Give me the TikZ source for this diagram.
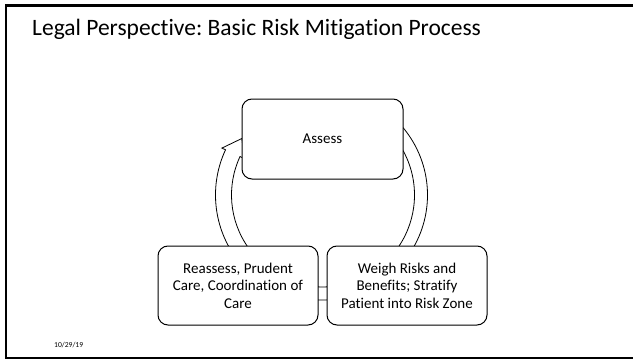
\documentclass[tikz,border=0pt]{standalone}
\usepackage{fontspec}
\setmainfont{Carlito}[Ligatures=NoCommon]
\frenchspacing
\usetikzlibrary{calc}
\begin{document}
\begin{tikzpicture}[x=1pt,y=1pt,
  stage/.style={draw=black, line width=1pt, fill=white, rounded corners=10pt,
    minimum width=160pt, minimum height=79pt, align=center, inner sep=2pt,
    font=\fontsize{15}{17.5}\selectfont},
  band/.style={draw=black, line width=0.8pt, fill=white, line join=miter}]
\useasboundingbox (0,0) rectangle (633,360);
% slide frame (right edge outside the picture)
\draw[line width=2.5pt] (640,354.5) -- (6,354.5) -- (6,2) -- (640,2);
% title and date
\node[anchor=base west, inner sep=0, font=\fontsize{23.5}{28}\selectfont] (title) at (32,325)
  {Legal Perspective: Basic Risk Mitigation Process};
\node[anchor=base west, inner sep=0, font=\fontsize{7.6}{9}\selectfont] (date) at (54,13) {10/29/19};
% cycle centre
\coordinate (C) at (322.5,165);
% right band (Assess -> Weigh)
\draw[band] ($(C)+(50:105)$) arc[start angle=50, end angle=-45, radius=105]
  -- ($(C)+(-45:92)$) arc[start angle=-45, end angle=50, radius=92] -- cycle;
% bottom band (Weigh -> Reassess)
\draw[band] ($(C)+(-62:105)$) arc[start angle=-62, end angle=-118, radius=105]
  -- ($(C)+(-118:92)$) arc[start angle=-118, end angle=-62, radius=92] -- cycle;
% left band with head (Reassess -> Assess)
\draw[band] ($(C)+(215:107)$) arc[start angle=215, end angle=155, radius=107]
  -- ($(C)+(155:111)$) -- ($(C)+(145:98.5)$) -- ($(C)+(155:86)$)
  -- ($(C)+(155:91)$) arc[start angle=155, end angle=215, radius=91] -- cycle;
% stages
\node[stage, minimum width=161pt, minimum height=80pt] (assess) at (322.5,221) {Assess};
\node[stage] (weigh) at (407,74.5) {Weigh Risks and\\Benefits; Stratify\\Patient into Risk Zone};
\node[stage] (reassess) at (238,74.5) {Reassess, Prudent\\Care, Coordination of\\Care};
\end{tikzpicture}
\end{document}
